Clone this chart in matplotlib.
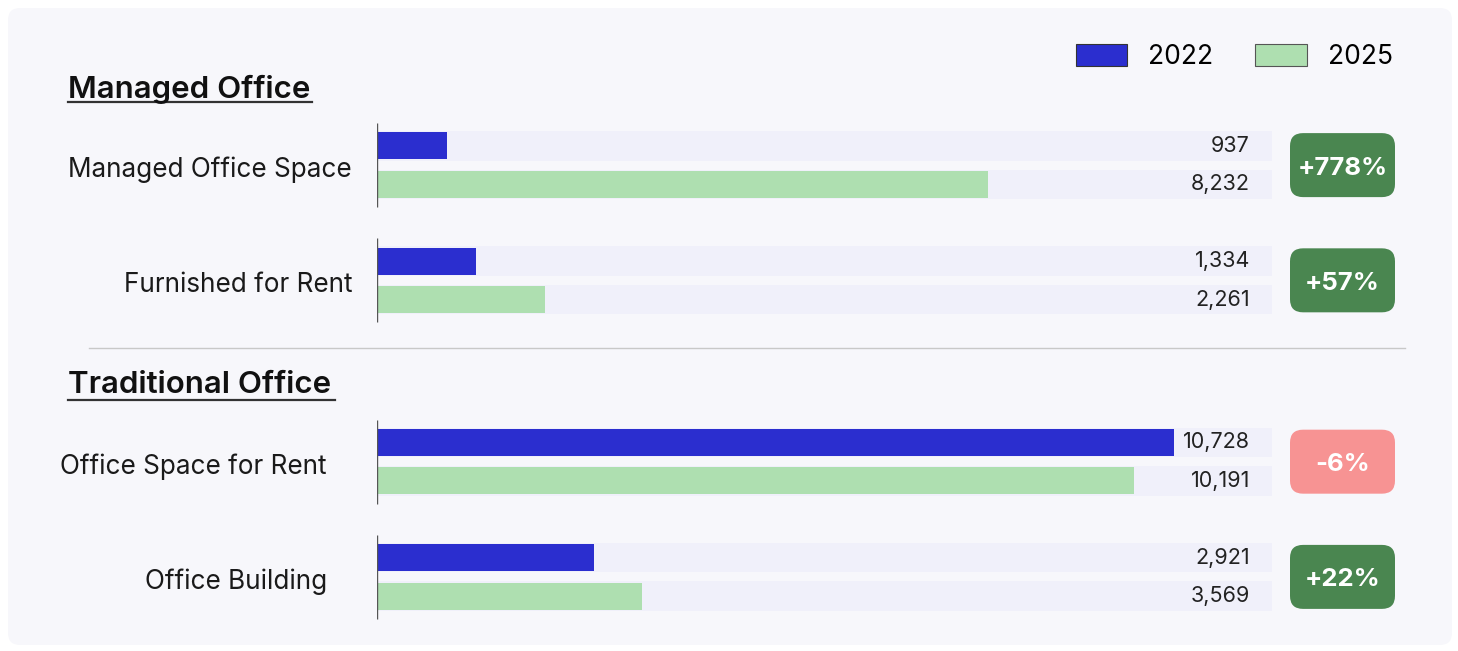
import matplotlib
matplotlib.use("Agg")
import matplotlib.pyplot as plt
import matplotlib.patches as mpatches
from matplotlib.lines import Line2D
from matplotlib.transforms import blended_transform_factory

plt.rcParams['font.family'] = ['Inter', 'DejaVu Sans']

# data
sections = ["Managed Office", "Traditional Office"]
categories = ["Managed Office Space", "Furnished for Rent", "Office Space for Rent", "Office Building"]
category_section = [0, 0, 1, 1]
vals_2022 = [937, 1334, 10728, 2921]
vals_2025 = [8232, 2261, 10191, 3569]
changes = ["+778%", "+57%", "-6%", "+22%"]
years = ["2022", "2025"]

c_2022 = "#2b2ecf"
c_2025 = "#aedfb0"
c_track = "#f0f0fa"
c_panel = "#f7f7fb"
c_up = "#4a8650"
c_down = "#f79393"

W, H = 1458, 651
fig = plt.figure(figsize=(W / 100, H / 100), dpi=100)
fig.patch.set_facecolor("white")
inch = fig.dpi_scale_trans


def pin(x, y):
    # pixel (from top-left) -> inches
    return x / 100, (H - y) / 100


# panel background
x0, y0 = pin(8, 645)
panel = mpatches.FancyBboxPatch((x0, y0), 1444 / 100, 637 / 100,
                                boxstyle="round,pad=0,rounding_size=0.12",
                                transform=inch, facecolor=c_panel, edgecolor="none", zorder=-10)
fig.patches.append(panel)

# bar axes
XMAX = 12050
pos = [i + category_section[i] * 0.574 for i in range(len(categories))]
ax_top, ax_bot = 107.5, 634.5
ax = fig.add_axes([377 / W, (H - ax_bot) / H, 895 / W, (ax_bot - ax_top) / H])
ax.set_zorder(2)
ax.set_xlim(0, XMAX)
ax.set_ylim(pos[-1] + 0.5, -0.5)
ax.axis("off")

off = 0.167
bh = 0.235
for i, p in enumerate(pos):
    ax.barh([p - off, p + off], [XMAX, XMAX], height=0.255, color=c_track, zorder=1)
ax.barh([p - off for p in pos], vals_2022, height=bh, color=c_2022, zorder=2)
ax.barh([p + off for p in pos], vals_2025, height=bh, color=c_2025, zorder=2)
ax.vlines([0] * len(pos), [p - 0.365 for p in pos], [p + 0.365 for p in pos],
          color="#555555", linewidth=1, zorder=3)

lab_x = (1250 - 377) / 895
tr = blended_transform_factory(ax.transAxes, ax.transData)
for i, p in enumerate(pos):
    ax.text(lab_x, p - off, f"{vals_2022[i]:,}", transform=tr, ha="right", va="center",
            fontsize=15.5, color="#222222", zorder=4)
    ax.text(lab_x, p + off, f"{vals_2025[i]:,}", transform=tr, ha="right", va="center",
            fontsize=15.5, color="#222222", zorder=4)

# category labels
trf = blended_transform_factory(fig.transFigure, ax.transData)
label_right = [352, 327]
for i, p in enumerate(pos):
    fig.text(label_right[category_section[i]] / W, p + 0.04, categories[i], transform=trf,
             ha="right", va="center", fontsize=18.8, color="#1a1a1a")

# change badges
fig.canvas.draw()
for i, p in enumerate(pos):
    _, yc = ax.transData.transform((0, p))
    yc_in = yc / 100
    bw, bhh = 105 / 100, 64 / 100
    box = mpatches.FancyBboxPatch((1290 / 100, yc_in - bhh / 2), bw, bhh,
                                  boxstyle="round,pad=0,rounding_size=0.13", transform=inch,
                                  facecolor=c_down if changes[i].startswith("-") else c_up,
                                  edgecolor="none", zorder=5)
    fig.patches.append(box)
    fig.text(1342.5 / W, (yc - 3) / H, changes[i], ha="center", va="center",
             fontsize=18.5, fontweight="bold", color="white", zorder=6)

# section headings
head_y = [89, 385]
head_line = [(68, 312, 102), (68, 335, 400)]
for s, name in enumerate(sections):
    fig.text(68 / W, (H - head_y[s]) / H, name, ha="left", va="center",
             fontsize=22.5, fontweight="semibold", color="#111111")
    xa, xb, yl = head_line[s]
    fig.add_artist(Line2D([xa / W, xb / W], [(H - yl) / H] * 2, transform=fig.transFigure,
                          color="#333333", linewidth=1.6))

# separator
fig.add_artist(Line2D([89 / W, 1405 / W], [(H - 348) / H] * 2, transform=fig.transFigure,
                      color="#c8c8c8", linewidth=1))

# legend
handles = [mpatches.Patch(facecolor=c_2022, edgecolor="#333333", linewidth=0.8),
           mpatches.Patch(facecolor=c_2025, edgecolor="#555555", linewidth=0.8)]
fig.legend(handles, years, ncol=2, frameon=False, fontsize=19,
           loc="center right", bbox_to_anchor=(1393 / W, (H - 57) / H),
           handlelength=1.95, handleheight=0.9, handletextpad=0.8, columnspacing=1.6,
           borderpad=0, borderaxespad=0)

fig.savefig("out.png", dpi=100, facecolor="white")
